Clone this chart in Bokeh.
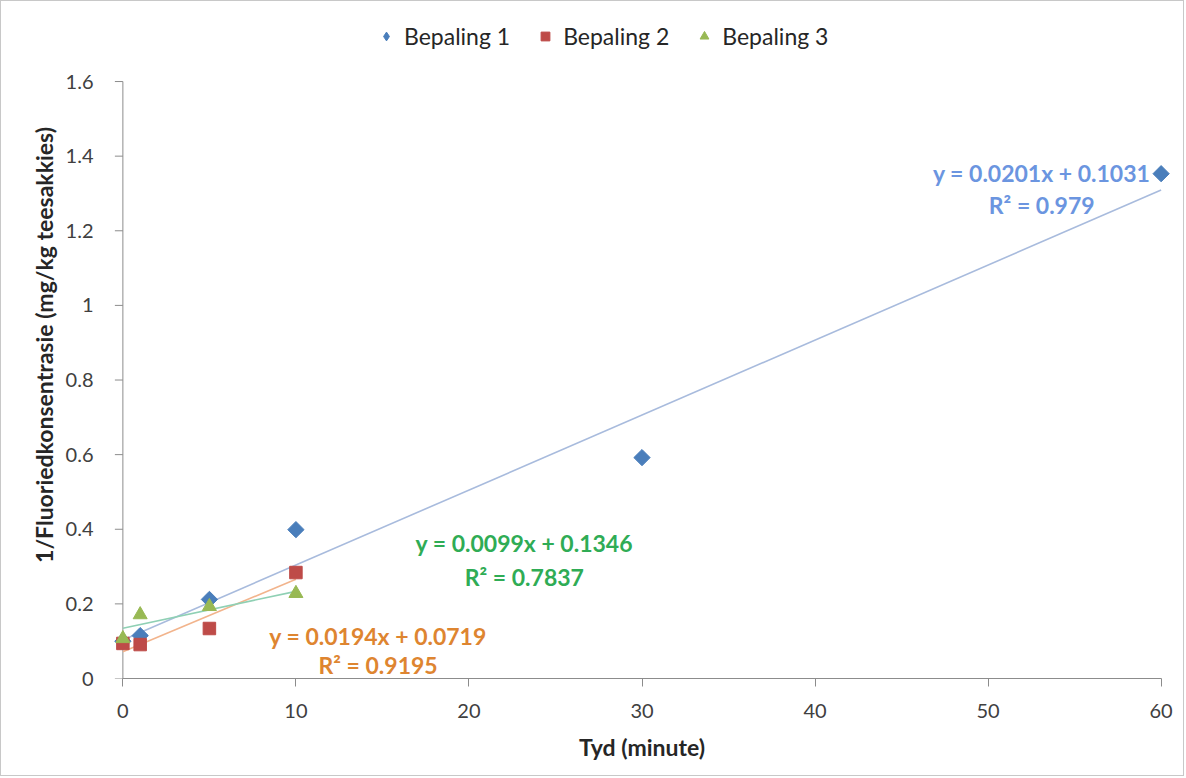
import math
from bokeh.plotting import figure
from bokeh.models import Range1d, Legend, LegendItem, Label, FixedTicker, CustomJSTickFormatter
from bokeh.embed import file_html
from bokeh.resources import INLINE

# ---- data ----
series_names = ["Bepaling 1", "Bepaling 2", "Bepaling 3"]
x1 = [0, 1, 5, 10, 30, 60]
y1 = [0.10, 0.115, 0.212, 0.399, 0.592, 1.353]
x2 = [0, 1, 5, 10]
y2 = [0.094, 0.091, 0.134, 0.284]
x3 = [0, 1, 5, 10]
y3 = [0.107, 0.171, 0.193, 0.228]

# trendline fits: slope, intercept, R^2
slope1, icpt1, r2_1 = 0.0201, 0.1031, "0.979"
slope2, icpt2, r2_2 = 0.0194, 0.0719, "0.9195"
slope3, icpt3, r2_3 = 0.0099, 0.1346, "0.7837"

x_ticks = [0, 10, 20, 30, 40, 50, 60]
y_ticks = [0, 0.2, 0.4, 0.6, 0.8, 1, 1.2, 1.4, 1.6]
x_axis_min, x_axis_max = 0, 60
y_axis_min, y_axis_max = 0, 1.6

FONT = "Lato"
AXIS_COL = "#8c8c8c"
marker_cols = ["#4a7ebb", "#be4b48", "#98b954"]
trend_cols = ["#a8bbdd", "#f2b48c", "#8fd0b4"]
eq_cols = ["#6b95e0", "#2fac55", "#de8530"]

# frame extends a little past the axes so edge markers are not clipped
p = figure(width=1184, height=776, output_backend="svg", toolbar_location=None,
           x_range=Range1d(-0.6, 60.6), y_range=Range1d(0, 1.7877),
           min_border_left=111, min_border_right=14, min_border_top=10, min_border_bottom=99)
p.styles = {"border": "1px solid #c8c8c8"}
p.outline_line_color = None
p.xgrid.visible = False
p.ygrid.visible = False
p.background_fill_color = "white"
p.border_fill_color = "white"

# vertical axis line and ticks at x = 0 (the frame starts slightly left of it)
p.segment(x0=[x_axis_min], y0=[y_axis_min], x1=[x_axis_min], y1=[y_axis_max],
          line_color=AXIS_COL, line_width=1)
p.ray(x=[x_axis_min] * len(y_ticks), y=y_ticks, length=8, length_units="screen",
      angle=math.pi, line_color=AXIS_COL, line_width=1)

# trendlines
def trend(xs, s, b):
    lo, hi = min(xs), max(xs)
    return [lo, hi], [s * lo + b, s * hi + b]

tx, ty = trend(x1, slope1, icpt1)
p.line(tx, ty, line_color=trend_cols[0], line_width=1.6)
tx, ty = trend(x2, slope2, icpt2)
p.line(tx, ty, line_color=trend_cols[1], line_width=1.6)
tx, ty = trend(x3, slope3, icpt3)
p.line(tx, ty, line_color=trend_cols[2], line_width=1.6)

r1 = p.scatter(x1, y1, marker="square", angle=math.pi / 4, size=11.5,
               fill_color=marker_cols[0], line_color=marker_cols[0])
r2 = p.scatter(x2, y2, marker="square", size=12.5, fill_color=marker_cols[1], line_color=marker_cols[1])
r3 = p.scatter(x3, y3, marker="triangle", size=14, fill_color=marker_cols[2], line_color=marker_cols[2])
# legend-only glyph for the diamond (rotation is not applied to legend glyphs)
r1_leg = p.scatter(x=[float("nan")], y=[float("nan")], marker="diamond", size=12,
                   fill_color=marker_cols[0], line_color=marker_cols[0])

# axes
for ax in (p.xaxis[0], p.yaxis[0]):
    ax.axis_line_color = AXIS_COL
    ax.major_tick_line_color = AXIS_COL
    ax.major_tick_in = 0
    ax.major_tick_out = 8
    ax.minor_tick_line_color = None
    ax.major_label_text_font = FONT
    ax.major_label_text_font_size = "20px"
    ax.major_label_text_color = "#404040"
    ax.axis_label_text_font = FONT
    ax.axis_label_text_font_style = "bold"
    ax.axis_label_text_font_size = "23px"
    ax.axis_label_text_color = "#262626"

p.xaxis.bounds = (x_axis_min, x_axis_max)
p.yaxis.bounds = (y_axis_min, y_axis_max)
p.yaxis.axis_line_color = None
p.yaxis.major_tick_line_color = None
p.yaxis.major_tick_out = 0
p.xaxis.ticker = FixedTicker(ticks=x_ticks)
p.yaxis.ticker = FixedTicker(ticks=y_ticks)
p.yaxis.formatter = CustomJSTickFormatter(code="return String(tick)")
p.xaxis.axis_label = "Tyd (minute)"
p.yaxis.axis_label = "1/Fluoriedkonsentrasie (mg/kg teesakkies)"
p.xaxis.major_label_standoff = 17
p.yaxis.major_label_standoff = 19
p.xaxis.axis_label_standoff = 12
p.yaxis.axis_label_standoff = 5

# legend
legend = Legend(items=[LegendItem(label=series_names[0], renderers=[r1_leg]),
                       LegendItem(label=series_names[1], renderers=[r2]),
                       LegendItem(label=series_names[2], renderers=[r3])],
                orientation="horizontal", location=(263, 628))
legend.border_line_color = None
legend.background_fill_alpha = 0
legend.label_text_font = FONT
legend.label_text_font_size = "23px"
legend.label_text_color = "#262626"
legend.glyph_width = 22
legend.glyph_height = 22
legend.spacing = 24
legend.label_standoff = 7
legend.margin = 0
legend.padding = 4
p.add_layout(legend, "center")

# equations
def eq_text(s, b):
    return "y = %.4fx + %.4f" % (s, b)

eqs = [
    (eq_text(slope1, icpt1), "R² = " + r2_1, 53.1, 1.354, 1.27, eq_cols[0]),
    (eq_text(slope3, icpt3), "R² = " + r2_3, 23.2, 0.362, 0.271, eq_cols[1]),
    (eq_text(slope2, icpt2), "R² = " + r2_2, 14.75, 0.115, 0.037, eq_cols[2]),
]
for l1, l2, cx, yA, yB, col in eqs:
    for txt, yy in ((l1, yA), (l2, yB)):
        p.add_layout(Label(x=cx, y=yy, text=txt, text_align="center", text_baseline="middle",
                           text_font=FONT, text_font_style="bold", text_font_size="23px",
                           text_color=col))

open("out.html", "w").write(file_html(p, INLINE))
